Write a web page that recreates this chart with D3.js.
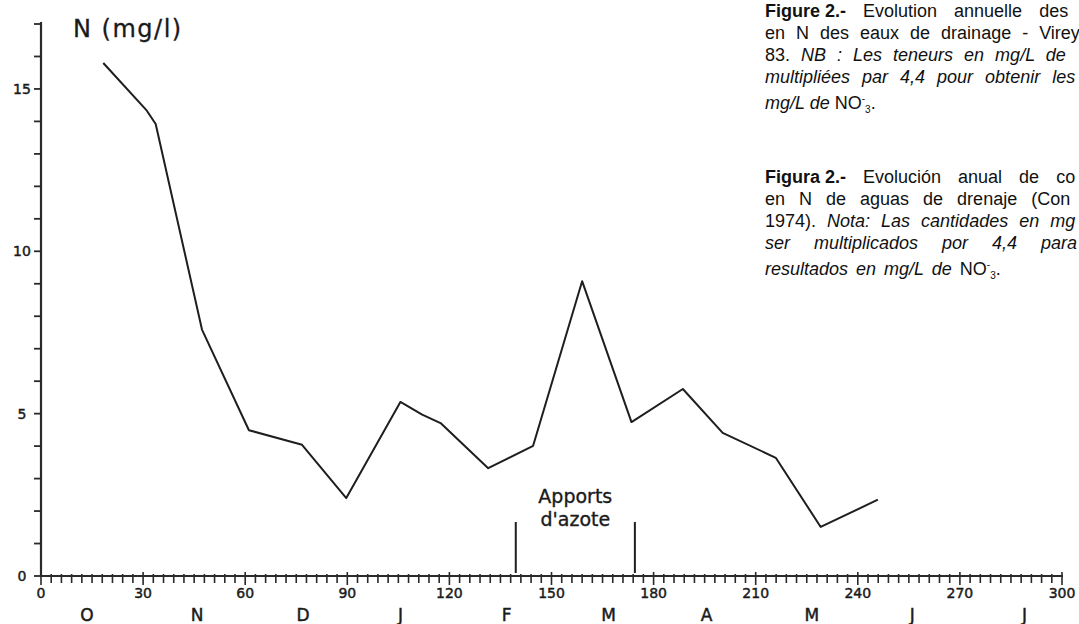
<!DOCTYPE html>
<html>
<head>
<meta charset="utf-8">
<script src="https://cdn.jsdelivr.net/npm/d3@7/dist/d3.min.js"></script>
<style>
  html, body { margin: 0; padding: 0; background: #fff; }
  svg { display: block; }
  .axis-txt { font-family: 'DejaVu Sans', Verdana, sans-serif; fill: #1a1a1a; stroke: #1a1a1a; stroke-width: 0.45px; }
  .caption { font-family: 'Liberation Sans', Arial, sans-serif; fill: #111; font-size: 18px; }
</style>
</head>
<body>
<svg id="chart" width="1079" height="624"></svg>
<script>
// jours depuis le 1er octobre
const days = [18.3, 31.1, 33.7, 47.3, 61.1, 76.7, 89.7, 105.6, 112.0, 117.4, 131.4, 144.6, 159.0, 173.5, 188.6, 200.3, 215.9, 229.1, 245.9]
// teneur en N (mg/l)
const nValues = [15.8, 14.33, 13.92, 7.59, 4.49, 4.04, 2.4, 5.36, 4.97, 4.71, 3.32, 4.01, 9.08, 4.74, 5.76, 4.41, 3.64, 1.51, 2.35]

// étiquettes des axes
const xTickLabels = [0, 30, 60, 90, 120, 150, 180, 210, 240, 270, 300]
const yTickLabels = [0, 5, 10, 15]
const months = ['O', 'N', 'D', 'J', 'F', 'M', 'A', 'M', 'J', 'J']
const monthDays = [13.5, 45.9, 77, 105.6, 136.8, 166.8, 195.6, 226.5, 256, 289]

// apports d'azote
const apportsDays = [139.5, 174.5]
const apportsLabel = ['Apports', "d'azote"]

// légende (fr / es)
const captionFr = [
    [['Figure 2.-', 'b'], [' Evolution annuelle des', 'n']],
    [['en N des eaux de drainage - Virey', 'n']],
    [['83. ', 'n'], ['NB : Les teneurs en mg/L de', 'i']],
    [['multipliées par 4,4 pour obtenir les', 'i']],
    [['mg/L de', 'i'], [' NO', 'n'], ['-', 'sup'], ['3', 'sub'], ['.', 'n']]
]
const captionEs = [
    [['Figura 2.-', 'b'], [' Evolución anual de co', 'n']],
    [['en N de aguas de drenaje (Con', 'n']],
    [['1974). ', 'n'], ['Nota: Las cantidades en mg', 'i']],
    [['ser multiplicados por 4,4 para', 'i']],
    [['resultados en mg/L de', 'i'], [' NO', 'n'], ['-', 'sup'], ['3', 'sub'], ['.', 'n']]
]
// espacement justifié (px) par ligne
const spacingFr = [12, 6, 6, 7, 0]
const spacingEs = [12, 9, 6, 19, 3]

const svg = d3.select('#chart')

const x = d3.scaleLinear().domain([0, 300]).range([41, 1062])
const y = d3.scaleLinear().domain([0, 17]).range([576, 24])

// axe Y
const gy = svg.append('g')
gy.append('line')
    .attr('x1', x(0)).attr('x2', x(0))
    .attr('y1', y(17) - 2).attr('y2', y(0) + 1)
    .attr('stroke', '#2a2a2a').attr('stroke-width', 2.2)
gy.selectAll('.yt')
    .data(d3.range(0, 18))
    .enter()
    .append('line')
    .attr('x1', x(0) - 7).attr('x2', x(0))
    .attr('y1', (d) => y(d)).attr('y2', (d) => y(d))
    .attr('stroke', '#2a2a2a').attr('stroke-width', 1.8)
gy.selectAll('text')
    .data(yTickLabels)
    .enter()
    .append('text')
    .attr('class', 'axis-txt')
    .attr('x', 22)
    .attr('y', (d) => y(d) + 5)
    .attr('text-anchor', 'middle')
    .attr('font-size', 14)
    .text((d) => d)

// axe X
const gx = svg.append('g')
gx.append('line')
    .attr('x1', x(0) - 1).attr('x2', x(300) + 1)
    .attr('y1', y(0)).attr('y2', y(0))
    .attr('stroke', '#2a2a2a').attr('stroke-width', 2.2)
gx.selectAll('.xt')
    .data(d3.range(0, 301, 3))
    .enter()
    .append('line')
    .attr('x1', (d) => x(d)).attr('x2', (d) => x(d))
    .attr('y1', (d) => y(0) - (d % 30 === 0 ? 4 : 2))
    .attr('y2', (d) => y(0) + (d % 30 === 0 ? 9 : 7))
    .attr('stroke', '#2a2a2a').attr('stroke-width', 1.6)
gx.selectAll('.xl')
    .data(xTickLabels)
    .enter()
    .append('text')
    .attr('class', 'axis-txt')
    .attr('x', (d) => x(d))
    .attr('y', y(0) + 22)
    .attr('text-anchor', 'middle')
    .attr('font-size', 14)
    .text((d) => d)
gx.selectAll('.ml')
    .data(months)
    .enter()
    .append('text')
    .attr('class', 'axis-txt')
    .attr('x', (d, i) => x(monthDays[i]))
    .attr('y', 621)
    .attr('text-anchor', 'middle')
    .attr('font-size', 17)
    .text((d) => d)

// titre de l'axe
svg.append('text')
    .attr('class', 'axis-txt')
    .attr('x', 73).attr('y', 37)
    .attr('font-size', 24)
    .attr('letter-spacing', 1.5)
    .style('stroke-width', '0.3px')
    .text('N (mg/l)')

// courbe
const linePath = d3.line()
    .x((d) => x(d[0]))
    .y((d) => y(d[1]))
svg.append('path')
    .attr('d', linePath(days.map((d, i) => [d, nValues[i]])))
    .attr('fill', 'none')
    .attr('stroke', '#1e1e1e')
    .attr('stroke-width', 2)
    .attr('stroke-linejoin', 'round')

// apports d'azote
svg.selectAll('.ap')
    .data(apportsDays)
    .enter()
    .append('line')
    .attr('x1', (d) => x(d)).attr('x2', (d) => x(d))
    .attr('y1', 522).attr('y2', y(0) - 3)
    .attr('stroke', '#1e1e1e').attr('stroke-width', 2)
svg.selectAll('.apt')
    .data(apportsLabel)
    .enter()
    .append('text')
    .attr('class', 'axis-txt')
    .attr('x', x(d3.mean(apportsDays)))
    .attr('y', (d, i) => 503 + i * 23)
    .attr('text-anchor', 'middle')
    .attr('font-size', 19)
    .style('stroke-width', '0.35px')
    .text((d) => d)

// légende
function drawCaption (lines, spacing, top) {
    lines.forEach((segs, li) => {
        const t = svg.append('text')
            .attr('class', 'caption')
            .attr('x', 765)
            .attr('y', top + li * 22 + (li === lines.length - 1 ? 4 : 0))
            .attr('word-spacing', spacing[li])
        segs.forEach((s) => {
            const sp = t.append('tspan').text(s[0])
            // pas d'espacement élargi dans "Figure 2.-"
            if (s[1] === 'b') sp.attr('font-weight', 'bold').attr('word-spacing', 0)
            if (s[1] === 'i') sp.attr('font-style', 'italic')
            if (s[1] === 'sup') sp.attr('font-size', 10).attr('dy', -7)
            if (s[1] === 'sub') sp.attr('font-size', 10).attr('dy', 11)
            if (s[1] === 'n' && s[0] === '.') sp.attr('dy', -4)
        })
    })
}
drawCaption(captionFr, spacingFr, 17)
drawCaption(captionEs, spacingEs, 183)
</script>
</body>
</html>
